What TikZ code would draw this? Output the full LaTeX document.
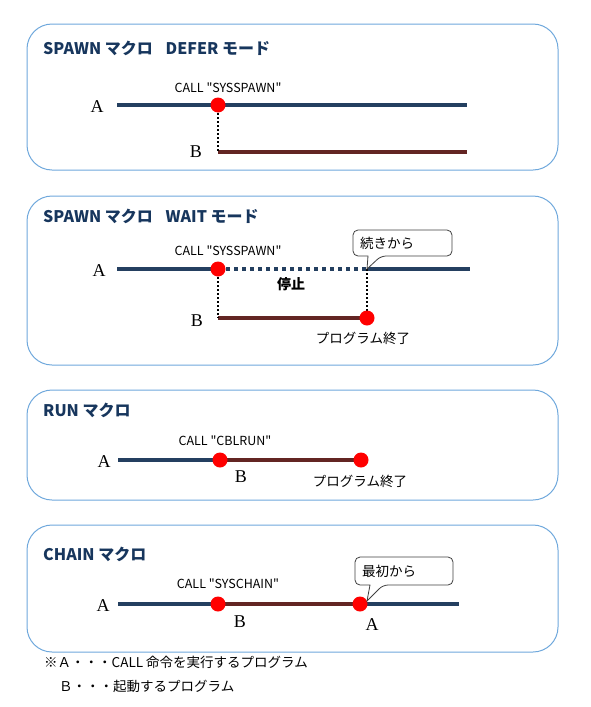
\documentclass[tikz,border=0pt]{standalone}
\usepackage{fontspec}
\setmainfont{Liberation Serif}
\newfontfamily\jp{Noto Sans CJK JP}
\usetikzlibrary{shapes.geometric}
\definecolor{navy}{HTML}{243F60}
\definecolor{brownred}{HTML}{632523}
\definecolor{titleblue}{HTML}{17365D}
\definecolor{boxblue}{HTML}{6FA8DC}
\tikzset{
  panel/.style={draw=boxblue, line width=1pt, rounded corners=25pt},
  title/.style={anchor=west, text=titleblue, font=\jp\bfseries\fontsize{16}{18}\selectfont, inner sep=0pt},
  calltxt/.style={font=\jp\fontsize{12.5}{14}\selectfont, inner sep=0pt},
  lbl/.style={font=\fontsize{18}{20}\selectfont, inner sep=0pt},
  note/.style={font=\jp\fontsize{13.5}{15}\selectfont, inner sep=0pt},
  aline/.style={draw=navy, line width=4pt},
  bline/.style={draw=brownred, line width=4pt},
  waitline/.style={draw=navy, line width=4pt, dash pattern=on 4pt off 4pt},
  vdot/.style={draw=black, line width=2.2pt, dash pattern=on 2pt off 2pt},
  dot/.style={circle, fill=red, inner sep=0pt, minimum size=15pt},
  callout/.style={draw=black!75, fill=white, line width=0.8pt},
}
\begin{document}
\begin{tikzpicture}[x=1pt, y=-1pt]
\useasboundingbox (0,0) rectangle (591,707);

% ---------- Panel 1: DEFER ----------
\draw[panel] (27,24) rectangle (558,170);
\node[title] (t1) at (43,48) {SPAWN マクロ\hspace{0.8em}DEFER モード};
\node[calltxt] (c1) at (228,88) {CALL "SYSSPAWN"};
\node[lbl] (la1) at (97,107) {A};
\node[lbl] (lb1) at (196,152) {B};
\coordinate (a1s) at (117,105);
\coordinate (a1e) at (467,105);
\coordinate (p1) at (218,105);
\coordinate (b1s) at (218,152);
\coordinate (b1e) at (467,152);
\draw[aline] (a1s) -- (a1e);
\draw[bline] (b1s) -- (b1e);
\draw[vdot] (p1) -- (b1s);
\node[dot] (d1) at (p1) {};

% ---------- Panel 2: WAIT ----------
\draw[panel] (27,196) rectangle (558,365);
\node[title] (t2) at (43,216) {SPAWN マクロ\hspace{0.8em}WAIT モード};
\node[calltxt] (c2) at (228,251) {CALL "SYSSPAWN"};
\node[lbl] (la2) at (99,271) {A};
\node[lbl] (lb2) at (197,321) {B};
\coordinate (a2s) at (117,269);
\coordinate (p2) at (218,269);
\coordinate (q2) at (367,269);
\coordinate (a2e) at (470,269);
\coordinate (b2s) at (218,318);
\coordinate (b2e) at (367,318);
\draw[aline] (a2s) -- (p2);
\draw[waitline] (p2) -- (q2);
\draw[aline] (q2) -- (a2e);
\draw[bline] (b2s) -- (b2e);
\draw[vdot] (p2) -- (b2s);
\draw[vdot] (q2) -- (b2e);
\node[dot] (d2a) at (p2) {};
\node[dot] (d2b) at (b2e) {};
\node[font=\jp\bfseries\fontsize{14}{16}\selectfont, inner sep=0pt] (stop) at (291,284) {停止};
\node[note] (end2) at (363,338) {プログラム終了};
\draw[callout, rounded corners=5pt] (353,230) -- (452,230) -- (452,256) -- (381,256) [sharp corners] -- (q2) -- (368,256) [rounded corners=5pt] -- (353,256) -- cycle;
\node[note, anchor=west] (cb2) at (360,243) {続きから};

% ---------- Panel 3: RUN ----------
\draw[panel] (27,390) rectangle (558,500);
\node[title] (t3) at (43,410) {RUN マクロ};
\node[calltxt] (c3) at (225,441) {CALL "CBLRUN"};
\node[lbl] (la3) at (104,462) {A};
\node[lbl] (lb3) at (241,477) {B};
\coordinate (a3s) at (118,460);
\coordinate (p3) at (220,460);
\coordinate (q3) at (361,460);
\draw[aline] (a3s) -- (p3);
\draw[bline] (p3) -- (q3);
\node[dot] (d3a) at (p3) {};
\node[dot] (d3b) at (q3) {};
\node[note] (end3) at (360,481) {プログラム終了};

% ---------- Panel 4: CHAIN ----------
\draw[panel] (27,525) rectangle (558,652);
\node[title] (t4) at (43,554) {CHAIN マクロ};
\node[calltxt] (c4) at (228,584) {CALL "SYSCHAIN"};
\node[lbl] (la4) at (103,606) {A};
\node[lbl] (lb4) at (240,622) {B};
\node[lbl] (la4b) at (372,625) {A};
\coordinate (a4s) at (118,604);
\coordinate (p4) at (218,604);
\coordinate (q4) at (360,604);
\coordinate (a4e) at (459,604);
\draw[aline] (a4s) -- (p4);
\draw[bline] (p4) -- (q4);
\draw[aline] (q4) -- (a4e);
\node[dot] (d4a) at (p4) {};
\node[dot] (d4b) at (q4) {};
\draw[callout, rounded corners=5pt] (355,557) -- (453,557) -- (453,585) -- (383,585) [sharp corners] -- (367,601) -- (370,585) [rounded corners=5pt] -- (355,585) -- cycle;
\node[note, anchor=west] (cb4) at (362,571) {最初から};

% ---------- Footnote ----------
\node[note, anchor=west] (n1) at (44,662) {※Ａ・・・CALL 命令を実行するプログラム};
\node[note, anchor=west] (n2) at (59,686) {Ｂ・・・起動するプログラム};
\end{tikzpicture}
\end{document}
